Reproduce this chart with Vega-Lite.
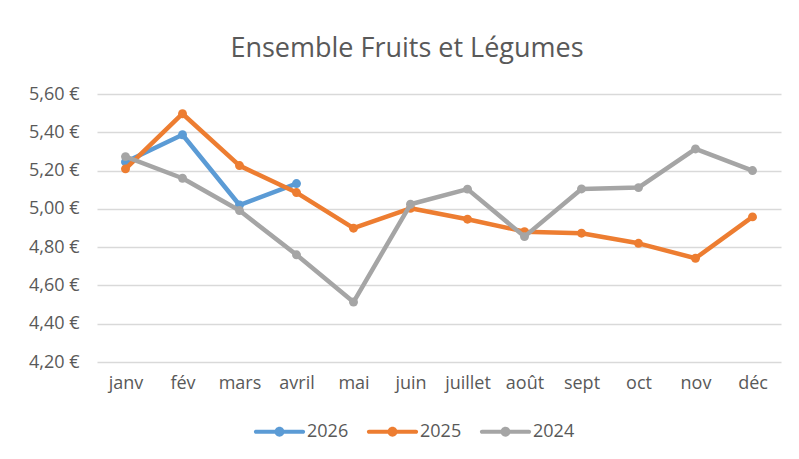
{
  "$schema": "https://vega.github.io/schema/vega-lite/v6.json",
  "autosize": {"type": "none"},
  "width": 684,
  "height": 268,
  "padding": {"left": 97, "top": 94, "right": 18, "bottom": 97},
  "background": "white",
  "title": {
    "text": "Ensemble Fruits et Légumes",
    "font": "Open Sans",
    "fontSize": 27,
    "fontWeight": "normal",
    "color": "#595959",
    "anchor": "middle",
    "frame": "group",
    "dx": -32,
    "offset": 22
  },
  "config": {
    "view": {"stroke": null},
    "font": "Open Sans"
  },
  "data": {
    "values": [
      {"mois": "janv", "annee": "2026", "prix": 5.245},
      {"mois": "fév", "annee": "2026", "prix": 5.387},
      {"mois": "mars", "annee": "2026", "prix": 5.02},
      {"mois": "avril", "annee": "2026", "prix": 5.132},
      {"mois": "janv", "annee": "2025", "prix": 5.209},
      {"mois": "fév", "annee": "2025", "prix": 5.497},
      {"mois": "mars", "annee": "2025", "prix": 5.226},
      {"mois": "avril", "annee": "2025", "prix": 5.085},
      {"mois": "mai", "annee": "2025", "prix": 4.899},
      {"mois": "juin", "annee": "2025", "prix": 5.003},
      {"mois": "juillet", "annee": "2025", "prix": 4.946},
      {"mois": "août", "annee": "2025", "prix": 4.881},
      {"mois": "sept", "annee": "2025", "prix": 4.873},
      {"mois": "oct", "annee": "2025", "prix": 4.82},
      {"mois": "nov", "annee": "2025", "prix": 4.742},
      {"mois": "déc", "annee": "2025", "prix": 4.958},
      {"mois": "janv", "annee": "2024", "prix": 5.273},
      {"mois": "fév", "annee": "2024", "prix": 5.16},
      {"mois": "mars", "annee": "2024", "prix": 4.991},
      {"mois": "avril", "annee": "2024", "prix": 4.76},
      {"mois": "mai", "annee": "2024", "prix": 4.513},
      {"mois": "juin", "annee": "2024", "prix": 5.024},
      {"mois": "juillet", "annee": "2024", "prix": 5.103},
      {"mois": "août", "annee": "2024", "prix": 4.855},
      {"mois": "sept", "annee": "2024", "prix": 5.104},
      {"mois": "oct", "annee": "2024", "prix": 5.111},
      {"mois": "nov", "annee": "2024", "prix": 5.313},
      {"mois": "déc", "annee": "2024", "prix": 5.2}
    ]
  },
  "encoding": {
    "x": {
      "field": "mois",
      "type": "nominal",
      "sort": ["janv", "fév", "mars", "avril", "mai", "juin", "juillet", "août", "sept", "oct", "nov", "déc"],
      "scale": {"type": "point", "padding": 0.5, "domain": ["janv", "fév", "mars", "avril", "mai", "juin", "juillet", "août", "sept", "oct", "nov", "déc"]},
      "axis": {
        "title": null,
        "labelAngle": 0,
        "domain": false,
        "ticks": false,
        "grid": false,
        "labelPadding": 12,
        "labelFontSize": 18,
        "labelColor": "#595959",
        "labelFont": "Open Sans"
      }
    },
    "y": {
      "field": "prix",
      "type": "quantitative",
      "scale": {"domain": [4.2, 5.6], "nice": false, "zero": false},
      "axis": {
        "title": null,
        "values": [4.2, 4.4, 4.6, 4.8, 5.0, 5.2, 5.4, 5.6],
        "labelExpr": "replace(format(datum.value, '.2f'), '.', ',') + ' €'",
        "domain": false,
        "ticks": false,
        "gridColor": "#D9D9D9",
        "gridWidth": 1.3,
        "labelPadding": 18,
        "labelFontSize": 18,
        "labelColor": "#595959",
        "labelFont": "Open Sans"
      }
    },
    "color": {
      "field": "annee",
      "type": "nominal",
      "sort": ["2026", "2025", "2024"],
      "scale": {"domain": ["2026", "2025", "2024"], "range": ["#5B9BD5", "#ED7D31", "#A5A5A5"]},
      "legend": {
        "title": null,
        "orient": "none",
        "direction": "horizontal",
        "legendX": 159,
        "legendY": 314,
        "padding": 0,
        "symbolType": "M-1,-0.09 H1 A0.09,0.09 0 0,1 1,0.09 H-1 A0.09,0.09 0 0,1 -1,-0.09 Z M0.21,0 A0.21,0.21 0 1,1 -0.21,0 A0.21,0.21 0 1,1 0.21,0 Z",
        "symbolSize": 2209,
        "symbolStrokeWidth": 0,
        "labelOffset": 4,
        "columnPadding": 17,
        "labelFontSize": 18,
        "labelColor": "#595959",
        "labelFont": "Open Sans",
        "encode": {
          "symbols": {
            "update": {
              "fill": {"scale": "color", "field": "value"},
              "strokeWidth": {"value": 0},
              "opacity": {"value": 1}
            }
          }
        }
      }
    }
  },
  "layer": [
    {
      "transform": [{"filter": "datum.annee === '2026'"}],
      "mark": {"type": "line", "strokeWidth": 4.5, "strokeCap": "round", "strokeJoin": "round", "point": {"filled": true, "size": 80, "opacity": 1}}
    },
    {
      "transform": [{"filter": "datum.annee === '2025'"}],
      "mark": {"type": "line", "strokeWidth": 4.5, "strokeCap": "round", "strokeJoin": "round", "point": {"filled": true, "size": 80, "opacity": 1}}
    },
    {
      "transform": [{"filter": "datum.annee === '2024'"}],
      "mark": {"type": "line", "strokeWidth": 4.5, "strokeCap": "round", "strokeJoin": "round", "point": {"filled": true, "size": 80, "opacity": 1}}
    }
  ]
}
